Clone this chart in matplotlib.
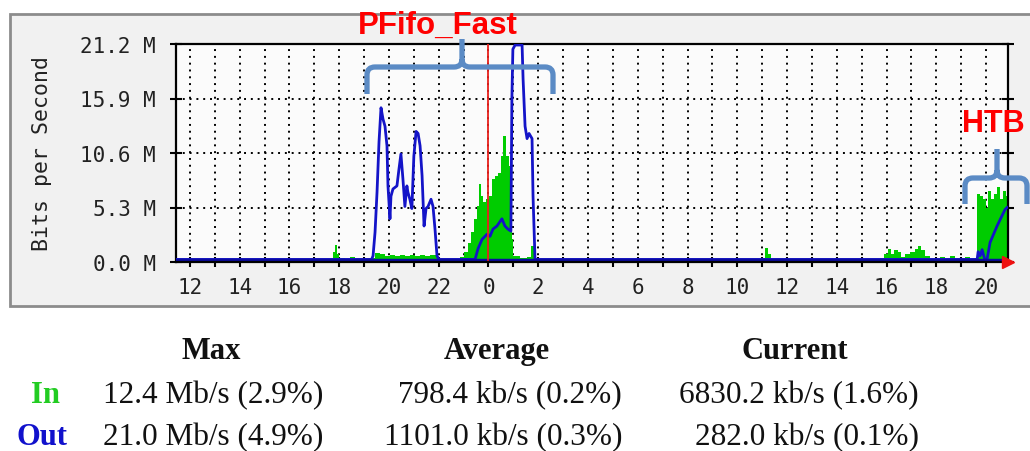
import matplotlib
matplotlib.use("Agg")
import matplotlib.pyplot as plt
from matplotlib.patches import Rectangle, PathPatch
from matplotlib.path import Path

# hours since 12:00 on day one (the graph spans ~33 h)
out_hours = [-0.56, 7.30, 7.36, 7.44, 7.52, 7.60, 7.68, 7.76, 7.84, 7.92, 7.96, 8.04, 8.08,
             8.16, 8.32, 8.40, 8.48, 8.56, 8.64, 8.72, 8.76, 8.84, 8.92, 9.00, 9.09, 9.17,
             9.25, 9.33, 9.41, 9.49, 9.57, 9.69, 9.77, 9.85, 9.93, 10.01, 11.46, 11.58,
             11.74, 11.94, 12.06, 12.18, 12.34, 12.54, 12.66, 12.78, 12.90, 12.94, 12.98,
             13.07, 13.35, 13.39, 13.47, 13.55, 13.63, 13.75, 13.79, 13.87, 31.64, 31.68,
             31.76, 31.84, 31.96, 32.04, 32.16, 32.44, 32.64, 32.76, 32.84]
out_mbps = [0.25, 0.25, 0.6, 2.9, 6.8, 11.7, 15.0, 13.9, 13.2, 11.3, 7.4, 4.2, 6.4,
            7.1, 7.4, 9.0, 10.5, 8.1, 5.4, 7.4, 6.8, 6.1, 5.2, 10.3, 12.7, 12.5,
            11.3, 8.4, 3.5, 5.2, 5.4, 6.1, 5.4, 3.2, 0.6, 0.25, 0.25, 1.3,
            2.2, 2.7, 2.5, 3.2, 3.5, 4.2, 3.5, 3.2, 3.0, 15.9, 20.7,
            21.1, 21.1, 17.8, 13.2, 12.0, 12.5, 12.0, 6.4, 0.25, 0.25, 1.0,
            0.6, 1.2, 0.1, 0.3, 1.9, 3.5, 4.5, 5.1, 5.3]

in_hours = [-0.56, 5.75, 5.83, 5.91, 5.99, 6.23, 6.43, 6.63, 6.83, 7.04, 7.32, 7.44, 7.64,
            7.84, 8.04, 8.24, 8.44, 8.64, 8.84, 9.05, 9.25, 9.45, 9.65, 9.89, 9.97, 10.25,
            10.45, 10.65, 10.85, 11.02, 11.18, 11.30, 11.42, 11.54, 11.62, 11.70, 11.78,
            11.90, 12.02, 12.14, 12.26, 12.38, 12.50, 12.58, 12.70, 12.82, 12.94, 12.98,
            13.27, 13.55, 13.71, 13.83, 13.95, 15.0, 15.2, 19.7, 19.9, 23.0, 23.12, 23.24,
            23.36, 23.64, 23.92, 27.74, 27.90, 28.06, 28.18, 28.30, 28.46, 28.58, 28.74,
            28.94, 29.15, 29.27, 29.39, 29.55, 29.75, 29.95, 30.15, 30.35, 30.55, 30.75,
            30.95, 31.16, 31.36, 31.56, 31.64, 31.76, 31.88, 32.00, 32.08, 32.20, 32.32,
            32.44, 32.56, 32.68, 32.80, 32.88]
in_mbps = [0.0, 1.0, 1.7, 0.8, 0.4, 0.3, 0.5, 0.3, 0.2, 0.1, 0.4, 0.9, 0.8,
           0.6, 0.7, 0.6, 0.7, 0.6, 0.7, 0.6, 0.7, 0.6, 0.7, 0.5, 0.2, 0.3,
           0.2, 0.3, 0.5, 1.0, 1.8, 2.9, 4.2, 5.4, 7.6, 6.4, 5.8,
           6.1, 6.4, 8.1, 8.4, 8.7, 10.3, 12.3, 10.3, 9.3, 2.2, 0.6,
           0.4, 0.5, 1.6, 0.3, 0.1, 0.2, 0.0, 0.3, 0.0, 0.4, 1.4, 0.8,
           0.3, 0.2, 0.1, 0.4, 0.8, 1.3, 0.8, 1.2, 1.0, 0.5, 0.8,
           1.0, 1.3, 1.6, 1.2, 0.6, 0.3, 0.2, 0.5, 0.2, 0.6, 0.3,
           0.2, 0.5, 0.2, 0.4, 6.6, 6.4, 6.1, 5.3, 6.9, 6.1, 6.6,
           7.3, 6.1, 6.9, 6.4, 6.4]

yticks = [0.0, 5.3, 10.6, 15.9, 21.2]
xtick_hours = list(range(0, 33, 2))
xtick_labels = ["12", "14", "16", "18", "20", "22", "0", "2", "4", "6", "8",
                "10", "12", "14", "16", "18", "20"]
midnight = 12

headers = ["Max", "Average", "Current"]
row_names = ["In", "Out"]
in_stats = ["12.4 Mb/s (2.9%)", "798.4 kb/s (0.2%)", "6830.2 kb/s (1.6%)"]
out_stats = ["21.0 Mb/s (4.9%)", "1101.0 kb/s (0.3%)", "282.0 kb/s (0.1%)"]

W, H = 1030, 452
fig = plt.figure(figsize=(W / 100, H / 100), dpi=100)
fig.patch.set_facecolor("white")

# grey mrtg panel behind the graph
bg = fig.add_axes([0, 0, 1, 1], zorder=-1)
bg.set_xlim(0, W)
bg.set_ylim(H, 0)
bg.axis("off")
bg.add_patch(Rectangle((10, 15), 1030, 292, facecolor="#f1f1f1", edgecolor="#8c8c8c", lw=2))

ax = fig.add_axes([176 / W, 1 - 263 / H, (1008 - 176) / W, (263 - 45) / H])
ax.set_facecolor("#fbfbfb")
ax.set_xlim(-0.56, 32.88)
ax.set_ylim(0, 21.2)

ax.fill_between(in_hours, in_mbps, step="post", color="#00cc00", lw=0, zorder=2)
ax.plot(out_hours, out_mbps, color="#1414c8", lw=2.0, zorder=3)
ax.axhline(0.12, color="#0a0aa0", lw=3.2, zorder=3)
ax.axvline(midnight, color="#e8201c", lw=1.3, zorder=4)

mono = "DejaVu Sans Mono"
ax.set_yticks(yticks)
ax.set_yticklabels([f"{v:.1f} M" for v in yticks], family=mono, fontsize=15, color="#222222")
ax.set_xticks(xtick_hours)
ax.set_xticklabels(xtick_labels, family=mono, fontsize=15, color="#222222")
ax.set_xticks(range(0, 33), minor=True)
ax.tick_params(axis="both", which="both", direction="inout", color="black", width=1.5)
ax.tick_params(axis="x", which="both", length=7, pad=7)
ax.tick_params(axis="y", length=9, pad=10, right=True)
ax.grid(True, which="both", axis="x", color="black", linestyle=(0, (1, 2.5)), lw=1.4, zorder=1)
ax.grid(True, which="major", axis="y", color="black", linestyle=(0, (1, 2.5)), lw=1.4, zorder=1)
ax.set_axisbelow(True)
for s in ax.spines.values():
    s.set_linewidth(1.6)
    s.set_color("black")
ax.spines["bottom"].set_zorder(5)
ax.plot([32.88], [0], marker=">", color="#ee1111", markersize=9, clip_on=False, zorder=6)
ax.set_ylabel("Bits per Second", family=mono, fontsize=15.5, color="#222222", labelpad=20)

# overlay for annotations and statistics table
ov = fig.add_axes([0, 0, 1, 1], zorder=10)
ov.set_xlim(0, W)
ov.set_ylim(H, 0)
ov.axis("off")
ov.patch.set_alpha(0)


def brace(x0, x1, ybar, yend, xmid, ytip, r=8):
    verts = [(x0, yend), (x0, ybar + r), (x0, ybar), (x0 + r, ybar),
             (xmid - r, ybar), (xmid, ybar), (xmid, ybar - r), (xmid, ytip),
             (xmid, ybar - r), (xmid, ybar), (xmid + r, ybar),
             (x1 - r, ybar), (x1, ybar), (x1, ybar + r), (x1, yend)]
    codes = [Path.MOVETO, Path.LINETO, Path.CURVE3, Path.CURVE3,
             Path.LINETO, Path.CURVE3, Path.CURVE3, Path.LINETO,
             Path.MOVETO, Path.CURVE3, Path.CURVE3,
             Path.LINETO, Path.CURVE3, Path.CURVE3, Path.LINETO]
    ov.add_patch(PathPatch(Path(verts, codes), facecolor="none", edgecolor="#5b8bc5",
                           lw=3.8, capstyle="butt", joinstyle="round"))


brace(367, 553, 68, 95, 462, 40)
brace(965, 1027, 179, 205, 997, 150)
ov.text(438, 26, "PFifo_Fast", color="#ff0000", fontsize=22.5, fontweight="bold",
        family="Liberation Sans", ha="center", va="center")
ov.text(993, 124, "HTB", color="#ff0000", fontsize=22, fontweight="bold",
        family="Liberation Sans", ha="center", va="center")

serif = "Liberation Serif"
for cx, h in zip([211, 497, 795], headers):
    ov.text(cx, 352, h, family=serif, fontsize=22, fontweight="bold", color="#111111",
            ha="center", va="center")
ov.text(45, 396, row_names[0], family=serif, fontsize=22, fontweight="bold",
        color="#22cc22", ha="center", va="center")
ov.text(42, 438, row_names[1], family=serif, fontsize=22, fontweight="bold",
        color="#1111cc", ha="center", va="center")
for rx, a, b in zip([323, 622, 919], in_stats, out_stats):
    ov.text(rx, 396, a, family=serif, fontsize=22.5, color="#111111", ha="right", va="center")
    ov.text(rx, 438, b, family=serif, fontsize=22.5, color="#111111", ha="right", va="center")

fig.savefig("out.png", dpi=100)
